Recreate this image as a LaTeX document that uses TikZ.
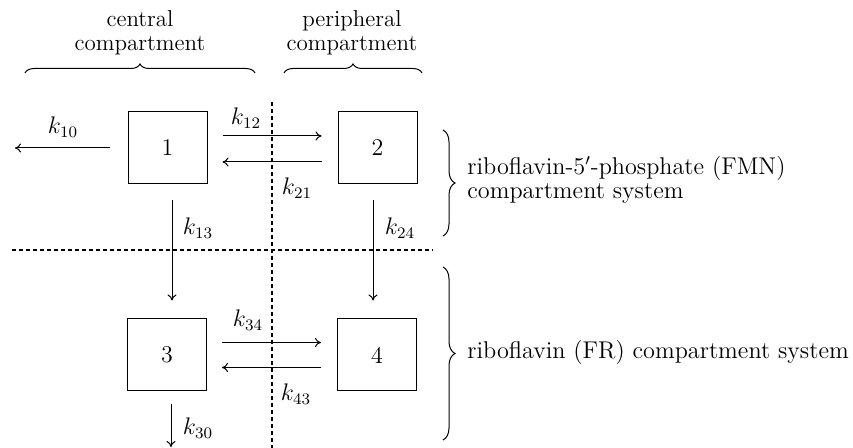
\documentclass[tikz,border=0pt]{standalone}
\usetikzlibrary{decorations.pathreplacing,arrows.meta}
\begin{document}
\begin{tikzpicture}[x=0.5pt,y=-0.5pt,
  font=\fontsize{11.5}{12}\selectfont,
  comp/.style={draw,line width=0.5pt,minimum width=39.5pt,minimum height=36pt,inner sep=0pt,font=\fontsize{12}{12}\selectfont},
  arr/.style={-{To[length=3pt,width=4.5pt]},line width=0.5pt},
  lab/.style={inner sep=0pt},
  ratelab/.style={inner sep=0pt,font=\fontsize{12}{12}\selectfont},
  syslab/.style={inner sep=0pt,anchor=west,align=left,font=\fontsize{12.1}{12.2}\selectfont},
  brctop/.style={decorate,decoration={brace,amplitude=4.5pt},line width=0.5pt},
  brcside/.style={decorate,decoration={brace,amplitude=6pt},line width=0.5pt},
  sep/.style={line width=0.6pt,dash pattern=on 2pt off 1.5pt}]
\useasboundingbox (0,0) rectangle (853,448);

% headings
\node[lab,align=center] (ct) at (140,33) {central\\compartment};
\node[lab,align=center] (pt) at (352,33) {peripheral\\compartment};
\draw[brctop] (25,73) -- (255,73);
\draw[brctop] (284,73) -- (422,73);

% separators
\coordinate (vtop) at (272,102);
\coordinate (vbot) at (272,448);
\coordinate (hl) at (12,250);
\coordinate (hr) at (433,250);
\draw[sep] (vtop) -- (vbot);
\draw[sep] (hl) -- (hr);

% compartments
\node[comp] (b1) at (167.5,148) {1};
\node[comp] (b2) at (377.5,148) {2};
\node[comp] (b3) at (167,355) {3};
\node[comp] (b4) at (377,355) {4};

% exchange arrows
\draw[arr] ([xshift=7.5pt,yshift=6pt]b1.east) -- ([xshift=-8pt,yshift=6pt]b2.west);
\draw[arr] ([xshift=-8pt,yshift=-7pt]b2.west) -- ([xshift=7.5pt,yshift=-7pt]b1.east);
\draw[arr] ([xshift=7.5pt,yshift=6.25pt]b3.east) -- ([xshift=-8pt,yshift=6.25pt]b4.west);
\draw[arr] ([xshift=-8pt,yshift=-6.25pt]b4.west) -- ([xshift=7.5pt,yshift=-6.25pt]b3.east);
\draw[arr] ([xshift=2.25pt,yshift=-8pt]b1.south) -- ([xshift=2.5pt,yshift=9pt]b3.north);
\draw[arr] ([xshift=-2.25pt,yshift=-8pt]b2.south) -- ([xshift=-2pt,yshift=9pt]b4.north);

% elimination arrows
\coordinate (e10) at (15,148);
\coordinate (e30) at (171,447);
\draw[arr] ([xshift=-9pt]b1.west) -- (e10);
\draw[arr] ([xshift=2pt,yshift=-6.5pt]b3.south) -- (e30);

% rate labels
\node[ratelab] (l10) at (63,127) {$k_{10}$};
\node[ratelab] (l12) at (246,118) {$k_{12}$};
\node[ratelab] (l21) at (297,188) {$k_{21}$};
\node[ratelab] (l13) at (198,228) {$k_{13}$};
\node[ratelab] (l24) at (400,228) {$k_{24}$};
\node[ratelab] (l34) at (248,320) {$k_{34}$};
\node[ratelab] (l43) at (296,394) {$k_{43}$};
\node[ratelab] (l30) at (198,428) {$k_{30}$};

% systems
\draw[brcside] (443,130) -- (443,236);
\draw[brcside] (443,267) -- (443,440);
\node[syslab] (fmn) at (467,180) {riboflavin-5$'$-phosphate (FMN)\\compartment system};
\node[syslab] (fr) at (467,352) {riboflavin (FR) compartment system};
\end{tikzpicture}
\end{document}
